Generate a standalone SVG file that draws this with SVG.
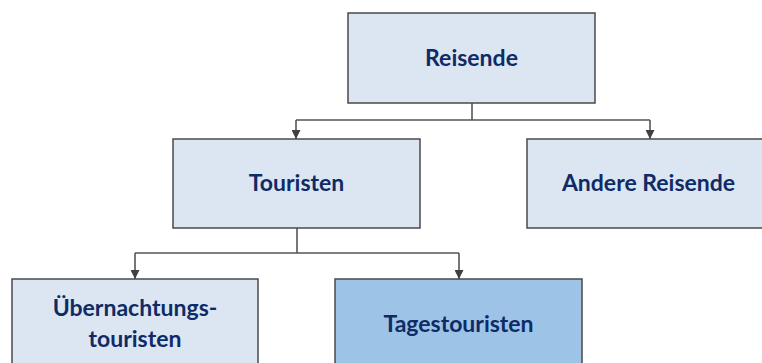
<svg xmlns="http://www.w3.org/2000/svg" width="762" height="363" viewBox="0 0 762 363">
  <style>
    .box { fill: #dce6f2; stroke: #4a4a4a; stroke-width: 1.5; }
    .box.hl { fill: #9dc3e6; }
    .lbl { font-family: "Lato", "Liberation Sans", sans-serif; font-weight: bold; font-size: 23px; fill: #0f2b66; text-anchor: middle; }
    .conn { fill: none; stroke: #555555; stroke-width: 1.6; }
  </style>
  <defs>
    <marker id="arrow" viewBox="0 0 10 10" refX="10" refY="5" markerWidth="9" markerHeight="9" markerUnits="userSpaceOnUse" orient="auto">
      <path d="M0,0 L10,5 L0,10 Z" fill="#404040"/>
    </marker>
  </defs>
  <rect width="762" height="363" fill="#ffffff"/>

  <g id="connectors">
    <path class="conn" d="M472,103 V120"/>
    <path class="conn" d="M296,120 H650"/>
    <path class="conn" d="M296,120 V139" marker-end="url(#arrow)"/>
    <path class="conn" d="M650,120 V139" marker-end="url(#arrow)"/>
    <path class="conn" d="M297,228 V253"/>
    <path class="conn" d="M135,253 H459"/>
    <path class="conn" d="M135,253 V279" marker-end="url(#arrow)"/>
    <path class="conn" d="M459,253 V279" marker-end="url(#arrow)"/>
  </g>

  <g id="reisende">
    <rect class="box" x="348" y="13" width="247" height="90"/>
    <text class="lbl" x="471.5" y="66">Reisende</text>
  </g>
  <g id="touristen">
    <rect class="box" x="173" y="139" width="247" height="89"/>
    <text class="lbl" x="296.5" y="191">Touristen</text>
  </g>
  <g id="andere-reisende">
    <rect class="box" x="527" y="139" width="247" height="89"/>
    <text class="lbl" x="648.5" y="191">Andere Reisende</text>
  </g>
  <g id="uebernachtungstouristen">
    <rect class="box" x="12" y="279" width="246" height="92"/>
    <text class="lbl" x="135" y="316">Übernachtungs-</text>
    <text class="lbl" x="135" y="347">touristen</text>
  </g>
  <g id="tagestouristen">
    <rect class="box hl" x="335" y="279" width="247" height="92"/>
    <text class="lbl" x="458.5" y="332">Tagestouristen</text>
  </g>
</svg>
